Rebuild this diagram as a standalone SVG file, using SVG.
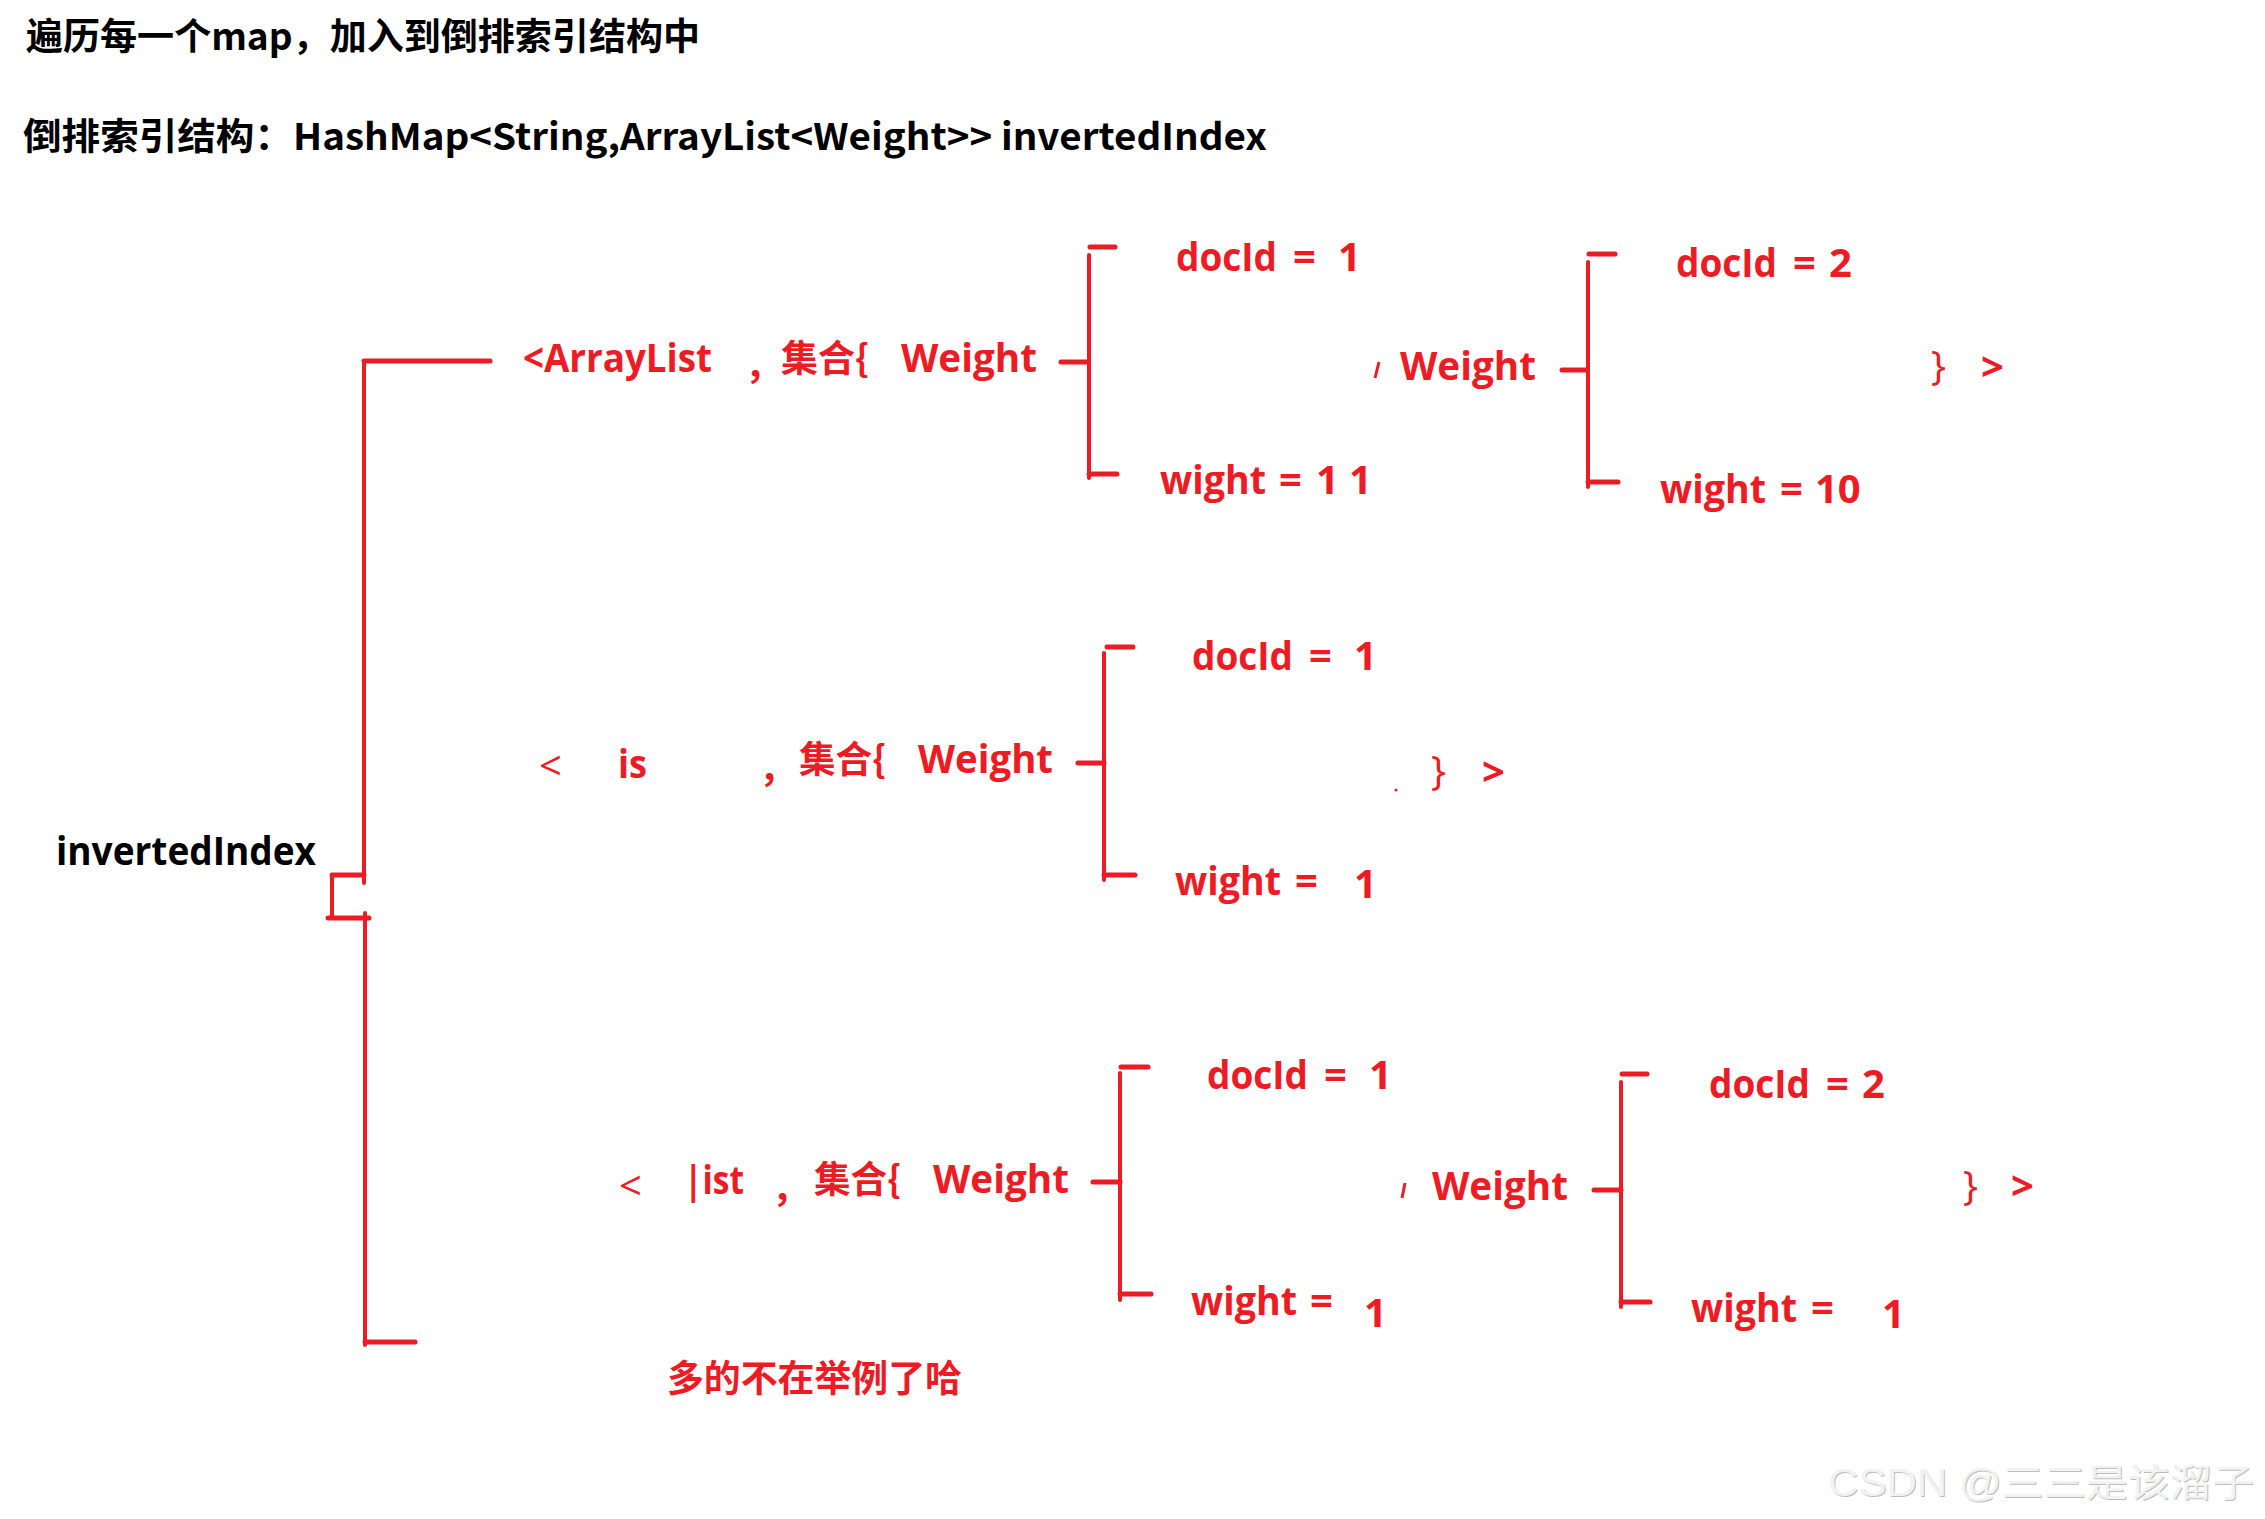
<svg xmlns="http://www.w3.org/2000/svg" width="2265" height="1519" viewBox="0 0 2265 1519">
<style>
.r{fill:#ED1C24;font-family:"Open Sans","Noto Sans","Noto Sans CJK SC",sans-serif;font-weight:bold;font-size:40px}
.rn{fill:#ED1C24;font-family:"Open Sans","Noto Sans",sans-serif;font-weight:normal;font-size:40px}
.c{fill:#ED1C24;font-family:"Noto Sans CJK SC","Open Sans",sans-serif;font-weight:bold;font-size:37px}
.k{fill:#000;font-family:"Open Sans","Noto Sans CJK SC",sans-serif;font-weight:bold;font-size:40px}
.kc{fill:#000;font-family:"Noto Sans CJK SC","Open Sans",sans-serif;font-weight:bold;font-size:37px}
.wm{font-family:"Liberation Sans","Noto Sans CJK SC",sans-serif;font-size:38px}
.ln{stroke:#ED1C24;stroke-width:4;fill:none;stroke-linecap:round}
.tk{stroke:#ED1C24;stroke-width:5;fill:none;stroke-linecap:round}
</style>
<rect width="2265" height="1519" fill="#fff"/>

<g id="title1"><text class="kc" x="26" y="50" textLength="674" lengthAdjust="spacingAndGlyphs">遍历每一个map，加入到倒排索引结构中</text></g>
<g id="title2"><text class="kc" x="23" y="150" textLength="1244" lengthAdjust="spacingAndGlyphs">倒排索引结构：HashMap&lt;String,ArrayList&lt;Weight&gt;&gt; invertedIndex</text></g>

<g id="invertedIndex"><text class="k" x="56" y="865" textLength="260" lengthAdjust="spacingAndGlyphs">invertedIndex</text></g>

<g id="connectors">
  <line class="ln" x1="364" y1="361" x2="364" y2="883"/>
  <line class="tk" x1="364" y1="361" x2="490" y2="361"/>
  <line class="tk" x1="332" y1="875" x2="364" y2="875"/>
  <line class="ln" x1="332" y1="875" x2="332" y2="918"/>
  <line class="tk" x1="328" y1="918" x2="369" y2="918"/>
  <line class="ln" x1="365" y1="913" x2="365" y2="1345"/>
  <line class="tk" x1="365" y1="1342" x2="415" y2="1342"/>
  <line class="tk" x1="1061" y1="362" x2="1088" y2="362"/>
  <line class="ln" x1="1089" y1="255" x2="1089" y2="478"/>
  <line class="tk" x1="1090" y1="247" x2="1115" y2="247"/>
  <line class="tk" x1="1089" y1="474" x2="1117" y2="474"/>
  <line class="tk" x1="1562" y1="370" x2="1587" y2="370"/>
  <line class="ln" x1="1588" y1="262" x2="1588" y2="487"/>
  <line class="tk" x1="1589" y1="254" x2="1615" y2="254"/>
  <line class="tk" x1="1588" y1="482" x2="1618" y2="482"/>
  <line class="tk" x1="1078" y1="763" x2="1104" y2="763"/>
  <line class="ln" x1="1104" y1="653" x2="1104" y2="880"/>
  <line class="tk" x1="1107" y1="647" x2="1133" y2="647"/>
  <line class="tk" x1="1104" y1="875" x2="1135" y2="875"/>
  <line class="tk" x1="1093" y1="1182" x2="1120" y2="1182"/>
  <line class="ln" x1="1120" y1="1073" x2="1120" y2="1300"/>
  <line class="tk" x1="1121" y1="1067" x2="1148" y2="1067"/>
  <line class="tk" x1="1120" y1="1294" x2="1151" y2="1294"/>
  <line class="tk" x1="1594" y1="1190" x2="1621" y2="1190"/>
  <line class="ln" x1="1621" y1="1082" x2="1621" y2="1307"/>
  <line class="tk" x1="1622" y1="1074" x2="1647" y2="1074"/>
  <line class="tk" x1="1621" y1="1302" x2="1650" y2="1302"/>
  <line stroke="#ED1C24" stroke-width="3" x1="1379" y1="362" x2="1375" y2="378"/>
  <line stroke="#ED1C24" stroke-width="3" x1="1405" y1="1183" x2="1402" y2="1198"/>
  <circle cx="1396" cy="790" r="1.5" fill="#ED1C24"/>
</g>

<g id="row1">
  <text class="r" x="523" y="372" textLength="189" lengthAdjust="spacingAndGlyphs">&lt;ArrayList</text>
  <text class="c" x="745" y="379">，</text>
  <text class="c" x="781" y="372" textLength="88" lengthAdjust="spacingAndGlyphs">集合{</text>
  <text class="r" x="901" y="372" textLength="136" lengthAdjust="spacingAndGlyphs">Weight</text>
</g>
<g id="row1-weight1">
  <text class="r" x="1176" y="271" textLength="101" lengthAdjust="spacingAndGlyphs">docId</text>
  <text class="r" x="1293" y="271">=</text>
  <text class="r" x="1338" y="271">1</text>
  <text class="r" x="1160" y="494" textLength="106" lengthAdjust="spacingAndGlyphs">wight</text>
  <text class="r" x="1279" y="494">=</text>
  <text class="r" x="1316" y="494">1</text>
  <text class="r" x="1349" y="494">1</text>
</g>
<g id="row1-weight2">
  <text class="r" x="1400" y="380" textLength="136" lengthAdjust="spacingAndGlyphs">Weight</text>
  <text class="r" x="1676" y="277" textLength="101" lengthAdjust="spacingAndGlyphs">docId</text>
  <text class="r" x="1793" y="277">=</text>
  <text class="r" x="1829" y="277">2</text>
  <text class="r" x="1660" y="503" textLength="106" lengthAdjust="spacingAndGlyphs">wight</text>
  <text class="r" x="1780" y="503">=</text>
  <text class="r" x="1815" y="503">10</text>
  <text class="rn" x="1931" y="380">}</text>
  <text class="r" x="1981" y="381">&gt;</text>
</g>

<g id="row2">
  <text class="rn" x="539" y="780">&lt;</text>
  <text class="r" x="618" y="778" textLength="29" lengthAdjust="spacingAndGlyphs">is</text>
  <text class="c" x="759" y="782">，</text>
  <text class="c" x="799" y="773" textLength="87" lengthAdjust="spacingAndGlyphs">集合{</text>
  <text class="r" x="918" y="773" textLength="135" lengthAdjust="spacingAndGlyphs">Weight</text>
</g>
<g id="row2-weight1">
  <text class="r" x="1192" y="670" textLength="101" lengthAdjust="spacingAndGlyphs">docId</text>
  <text class="r" x="1309" y="670">=</text>
  <text class="r" x="1354" y="670">1</text>
  <text class="r" x="1175" y="895" textLength="106" lengthAdjust="spacingAndGlyphs">wight</text>
  <text class="r" x="1295" y="895">=</text>
  <text class="r" x="1354" y="898">1</text>
  <text class="rn" x="1431" y="785">}</text>
  <text class="r" x="1482" y="786">&gt;</text>
</g>

<g id="row3">
  <text class="rn" x="619" y="1200">&lt;</text>
  <text class="r" x="684" y="1194" textLength="60" lengthAdjust="spacingAndGlyphs">|ist</text>
  <text class="c" x="772" y="1202">，</text>
  <text class="c" x="814" y="1193" textLength="87" lengthAdjust="spacingAndGlyphs">集合{</text>
  <text class="r" x="933" y="1193" textLength="136" lengthAdjust="spacingAndGlyphs">Weight</text>
</g>
<g id="row3-weight1">
  <text class="r" x="1207" y="1089" textLength="101" lengthAdjust="spacingAndGlyphs">docId</text>
  <text class="r" x="1324" y="1089">=</text>
  <text class="r" x="1369" y="1089">1</text>
  <text class="r" x="1191" y="1315" textLength="106" lengthAdjust="spacingAndGlyphs">wight</text>
  <text class="r" x="1310" y="1315">=</text>
  <text class="r" x="1364" y="1327">1</text>
</g>
<g id="row3-weight2">
  <text class="r" x="1432" y="1200" textLength="136" lengthAdjust="spacingAndGlyphs">Weight</text>
  <text class="r" x="1709" y="1098" textLength="101" lengthAdjust="spacingAndGlyphs">docId</text>
  <text class="r" x="1826" y="1098">=</text>
  <text class="r" x="1862" y="1098">2</text>
  <text class="r" x="1691" y="1322" textLength="106" lengthAdjust="spacingAndGlyphs">wight</text>
  <text class="r" x="1811" y="1322">=</text>
  <text class="r" x="1882" y="1328">1</text>
  <text class="rn" x="1963" y="1200">}</text>
  <text class="r" x="2011" y="1200">&gt;</text>
</g>

<g id="note"><text class="c" x="667" y="1392" textLength="295" lengthAdjust="spacingAndGlyphs">多的不在举例了哈</text></g>

<g id="watermark">
  <text class="wm" x="1829" y="1497" fill="#bdbdbd" textLength="426" lengthAdjust="spacingAndGlyphs">CSDN @三三是该溜子</text>
  <text class="wm" x="1828" y="1496" fill="#f2f2f2" textLength="426" lengthAdjust="spacingAndGlyphs">CSDN @三三是该溜子</text>
</g>
</svg>
